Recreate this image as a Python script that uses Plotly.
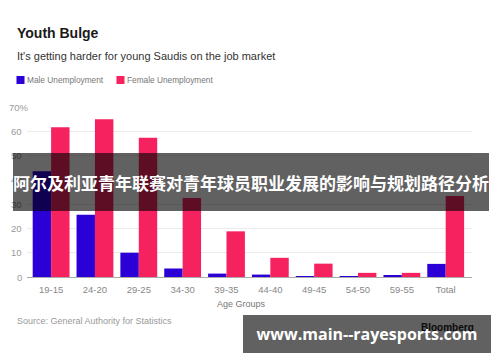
import plotly.graph_objects as go

categories = ["19-15", "24-20", "29-25", "34-30", "39-35", "44-40", "49-45", "54-50", "59-55", "Total"]
male = [43.5, 25.6, 10.0, 3.5, 1.4, 1.0, 0.15, 0.3, 0.5, 5.4]
female = [61.7, 65.0, 57.3, 32.5, 18.8, 7.9, 5.5, 1.7, 1.7, 33.4]
y_ticks = [0, 10, 20, 30, 40, 50, 60, 70]
y_tick_text = ["0", "10", "20", "30", "40", "50", "60", "70%"]

W, H = 500, 362
L, R, T, B = 27, 28, 107, 85
PW, PH = W - L - R, H - T - B

def PX(x):
    return (x - L) / PW

def PY(y):
    return (H - B - y) / PH

BLUE = "#2b00d6"
PINK = "#f5225f"
FONT = "Liberation Sans, Arial, sans-serif"

fig = go.Figure()
fig.add_trace(go.Bar(x=categories, y=male, name="Male Unemployment",
                     marker=dict(color=BLUE, line=dict(width=0))))
fig.add_trace(go.Bar(x=categories, y=female, name="Female Unemployment",
                     marker=dict(color=PINK, line=dict(width=0))))

ann = []
# titles
ann.append(dict(text="<b>Youth Bulge</b>", x=PX(15), y=PY(33), xanchor="left", yanchor="middle",
                font=dict(size=14, color="#1a1a1a", family=FONT)))
ann.append(dict(text="It's getting harder for young Saudis on the job market", x=PX(15), y=PY(56),
                xanchor="left", yanchor="middle", font=dict(size=11, color="#333333", family=FONT)))
# legend
ann.append(dict(text="Male Unemployment", x=PX(25), y=PY(80), xanchor="left", yanchor="middle",
                font=dict(size=8.3, color="#777777", family=FONT)))
ann.append(dict(text="Female Unemployment", x=PX(125), y=PY(80), xanchor="left", yanchor="middle",
                font=dict(size=8.3, color="#777777", family=FONT)))
# y tick labels
for v, t in zip(y_ticks, y_tick_text):
    right = 31 if t.endswith("%") else 24
    ann.append(dict(text=t, x=PX(right), y=v, yref="y", xref="paper", xanchor="right",
                    yanchor="middle", font=dict(size=9.5, color="#999999", family=FONT)))
# axis title and source
ann.append(dict(text="Age Groups", x=PX(241), y=PY(303.5), xanchor="center", yanchor="middle",
                font=dict(size=9, color="#777777", family=FONT)))
ann.append(dict(text="Source: General Authority for Statistics", x=PX(15), y=PY(321),
                xanchor="left", yanchor="middle", font=dict(size=9, color="#999999", family=FONT)))
ann.append(dict(text="<b>Bloomberg</b>", x=PX(476), y=PY(327), xanchor="right", yanchor="middle",
                font=dict(size=10, color="#222222", family=FONT)))
# overlay banner
ann.append(dict(text="<b>阿尔及利亚青年联赛对青年球员职业发展的影响与规划路径分析</b>",
                x=PX(250.5), y=PY(182), xanchor="center", yanchor="middle",
                width=476, height=58, bgcolor="rgba(0,0,0,0.62)", borderpad=0, borderwidth=0,
                font=dict(size=17, color="white", family="Noto Sans CJK SC")))
# watermark box
ann.append(dict(text="<b>www.main--rayesports.com</b>",
                x=PX(367), y=PY(334), xanchor="center", yanchor="middle",
                width=248, height=38, bgcolor="rgba(0,0,0,0.62)", borderpad=0, borderwidth=0,
                font=dict(size=16, color="white", family="Open Sans, DejaVu Sans, sans-serif")))

for a in ann:
    a.setdefault("xref", "paper")
    a.setdefault("yref", "paper")
    a["showarrow"] = False

shapes = [
    dict(type="rect", xref="paper", yref="paper", x0=PX(16.5), x1=PX(24.5), y0=PY(84), y1=PY(76),
         fillcolor=BLUE, line=dict(width=0)),
    dict(type="rect", xref="paper", yref="paper", x0=PX(116.5), x1=PX(124.5), y0=PY(84), y1=PY(76),
         fillcolor=PINK, line=dict(width=0)),
]

fig.update_layout(
    width=W, height=H,
    margin=dict(l=L, r=R, t=T, b=B, pad=0),
    paper_bgcolor="white", plot_bgcolor="white",
    barmode="group", bargap=0.16, bargroupgap=0,
    showlegend=False,
    annotations=ann, shapes=shapes,
    xaxis=dict(range=[-0.55, 9.6], showgrid=False, showline=True, linecolor="#aaaaaa", linewidth=1,
               ticks="", ticklabelstandoff=4,
               tickfont=dict(size=9.5, color="#888888", family=FONT), fixedrange=True),
    yaxis=dict(range=[0, 70], tickvals=y_ticks, showticklabels=False, showgrid=True,
               gridcolor="#ebebeb", gridwidth=1, zeroline=False, showline=False, fixedrange=True),
)

fig.write_html("out.html")
